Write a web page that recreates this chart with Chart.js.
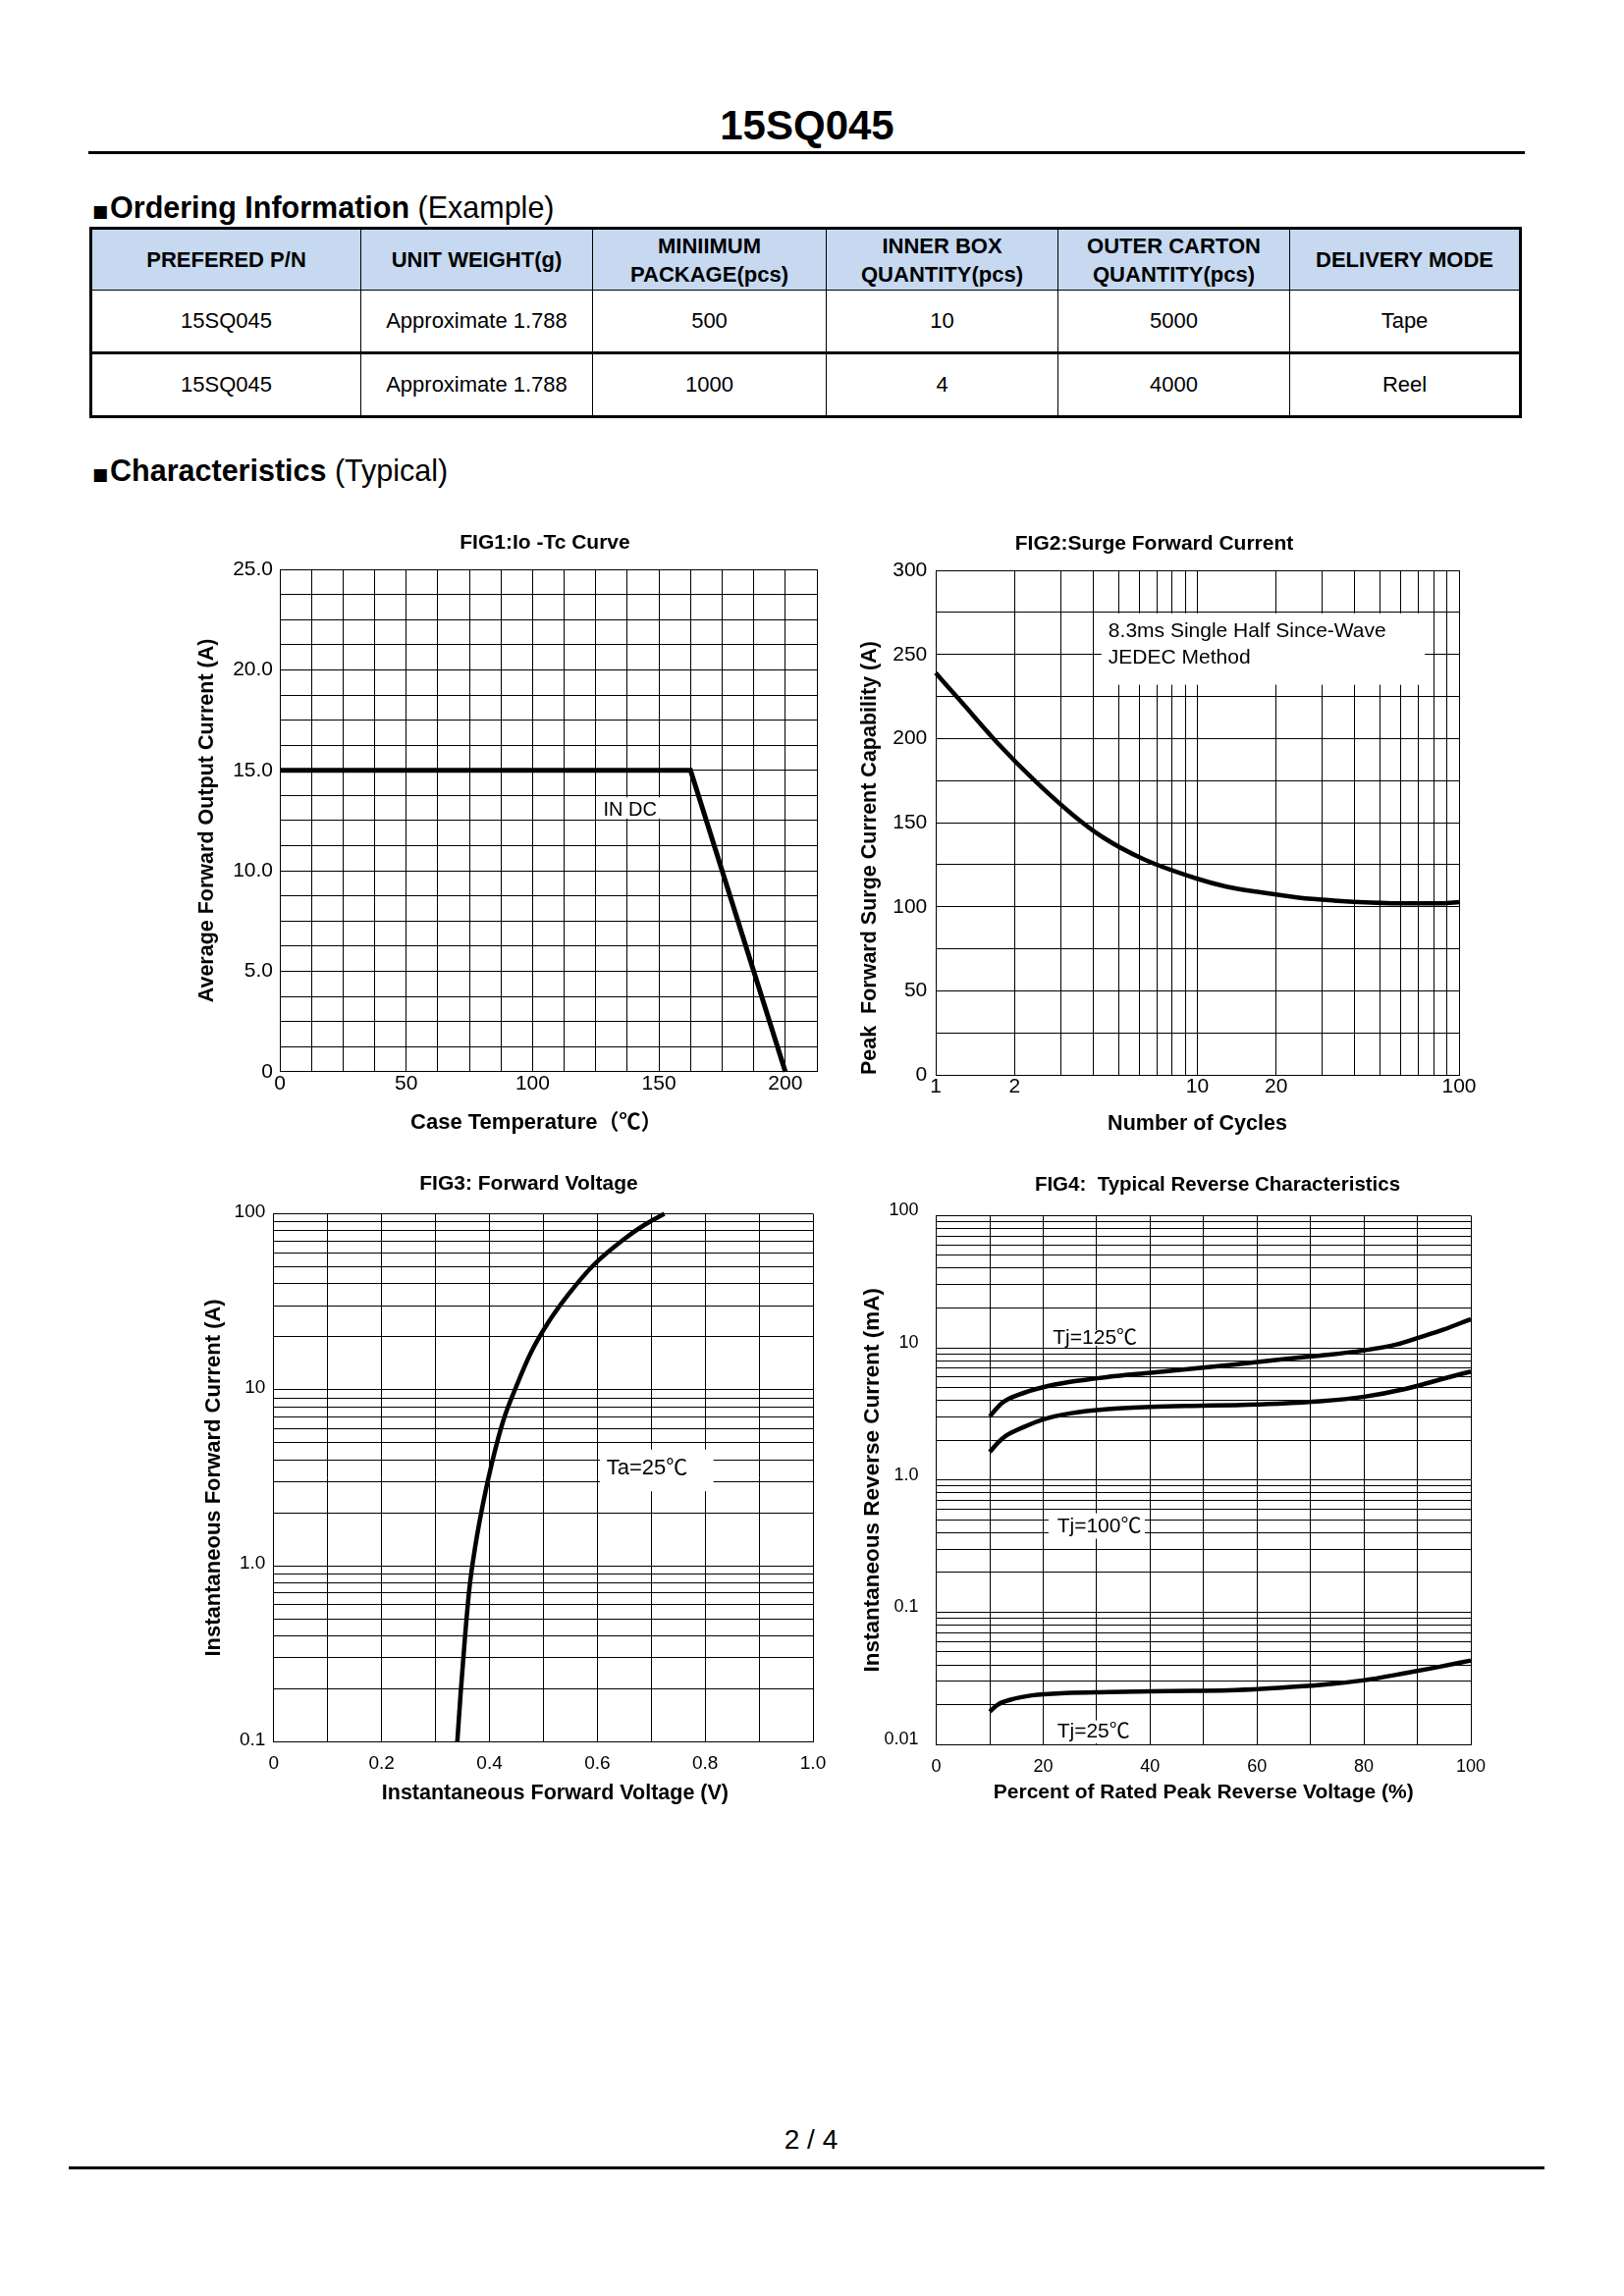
<!DOCTYPE html>
<html>
<head>
<meta charset="utf-8">
<title>15SQ045</title>
<script src="https://cdn.jsdelivr.net/npm/chart.js@4.4.1/dist/chart.umd.min.js"></script>
<style>
html,body{margin:0;padding:0;background:#fff;}
body{width:1654px;height:2339px;position:relative;overflow:hidden;font-family:"Liberation Sans",Arial,Helvetica,sans-serif;color:#000;}
.abs{position:absolute;white-space:nowrap;}
.rule{position:absolute;background:#000;}
.sq{font-family:"DejaVu Sans",sans-serif;font-size:17px;vertical-align:1px;margin-right:2px;}
table.order{position:absolute;left:91px;top:230.5px;border-collapse:collapse;table-layout:fixed;border:3px solid #000;font-size:22px;}
table.order td,table.order th{border:1.5px solid #000;text-align:center;vertical-align:middle;padding:0;line-height:28.5px;}
table.order th{background:#c6d9f1;font-weight:bold;height:58px;padding-top:3px;}
table.order td{height:60px;padding-top:2px;}
table.order tr.r2 td{border-top:3px solid #000;}
canvas{position:absolute;}
</style>
</head>
<body>
<div class="abs" style="left:0;width:1644px;top:106.5px;font-size:42px;line-height:42px;font-weight:bold;text-align:center;">15SQ045</div>
<div class="rule" style="left:90px;top:154px;width:1463px;height:3px;"></div>

<div class="abs" style="left:94px;top:195.5px;font-size:30.5px;line-height:30.5px;"><span class="sq">■</span><b>Ordering Information</b> (Example)</div>

<table class="order">
<colgroup><col style="width:275px"><col style="width:236px"><col style="width:238px"><col style="width:236px"><col style="width:236px"><col style="width:235px"></colgroup>
<tr><th>PREFERED P/N</th><th>UNIT WEIGHT(g)</th><th>MINIIMUM<br>PACKAGE(pcs)</th><th>INNER BOX<br>QUANTITY(pcs)</th><th>OUTER CARTON<br>QUANTITY(pcs)</th><th>DELIVERY MODE</th></tr>
<tr><td>15SQ045</td><td>Approximate 1.788</td><td>500</td><td>10</td><td>5000</td><td>Tape</td></tr>
<tr class="r2"><td>15SQ045</td><td>Approximate 1.788</td><td>1000</td><td>4</td><td>4000</td><td>Reel</td></tr>
</table>

<div class="abs" style="left:94px;top:463.5px;font-size:30.5px;line-height:30.5px;"><span class="sq">■</span><b>Characteristics</b> (Typical)</div>

<canvas id="fig1"></canvas>
<canvas id="fig2"></canvas>
<canvas id="fig3"></canvas>
<canvas id="fig4"></canvas>

<div class="abs" style="left:0;width:1652px;top:2166px;font-size:28px;line-height:28px;text-align:center;">2 / 4</div>
<div class="rule" style="left:70px;top:2207px;width:1503px;height:3px;"></div>

<script>
// ---------------- DATA ----------------
// FIG1: Io - Tc curve
const fig1Temp = [0, 162.5, 200];
const fig1Current = [15, 15, 0];

// FIG2: Surge forward current
const fig2Cycles = [1, 1.253, 1.727, 2.415, 3.327, 4.326, 6.228, 9.93, 12.91, 17.4, 24.42, 33.28, 46.2, 64.12, 85.8, 100];
const fig2Current = [239, 221.8, 197.2, 174.3, 154.9, 141.6, 128.3, 116.8, 112, 108.6, 105.4, 103.7, 102.5, 102, 102, 102.8];
const fig2XTicks = [1, 2, 3, 4, 5, 6, 7, 8, 9, 10, 20, 30, 40, 50, 60, 70, 80, 90, 100];
const fig2XLabels = {1: '1', 2: '2', 10: '10', 20: '20', 100: '100'};

// FIG3: Forward voltage
const fig3Voltage = [0.3403, 0.3466, 0.3544, 0.3629, 0.3738, 0.3879, 0.405, 0.426, 0.4494, 0.4766, 0.5078, 0.5467, 0.5935, 0.648, 0.6869, 0.7243];
const fig3Current = [0.1, 0.191, 0.389, 0.752, 1.3, 2.25, 3.89, 6.74, 10.4, 16.2, 23.8, 34.9, 51.3, 71.2, 86.3, 100];
const fig3YTicks = [0.1, 0.2, 0.3, 0.4, 0.5, 0.6, 0.7, 0.8, 0.9, 1, 2, 3, 4, 5, 6, 7, 8, 9, 10, 20, 30, 40, 50, 60, 70, 80, 90, 100];
const fig3YLabels = {0.1: '0.1', 1: '1.0', 10: '10', 100: '100'};
const fig3XLabels = {0: '0', 0.2: '0.2', 0.4: '0.4', 0.6: '0.6', 0.8: '0.8', 1: '1.0'};

// FIG4: Typical reverse characteristics
const fig4Pct125 = [10, 12.3, 15.5, 19.8, 25, 32.1, 40.1, 48, 56, 63.9, 71.8, 79.8, 86.1, 90.1, 94.8, 100];
const fig4Ir125 = [3.03, 3.83, 4.43, 5.01, 5.52, 6.02, 6.48, 6.97, 7.5, 8.12, 8.74, 9.53, 10.6, 11.9, 13.7, 16.5];
const fig4Pct100 = [10, 11.5, 13.1, 16.3, 19.8, 25, 32.1, 40.1, 48, 56, 63.9, 71.8, 79.8, 87.7, 94, 100];
const fig4Ir100 = [1.63, 1.91, 2.17, 2.51, 2.86, 3.19, 3.44, 3.57, 3.64, 3.69, 3.78, 3.94, 4.25, 4.88, 5.72, 6.62];
const fig4Pct25 = [10, 11.5, 13.9, 17.9, 24.2, 32.1, 40.1, 48, 56, 63.9, 71.8, 79.8, 87.7, 94, 100];
const fig4Ir25 = [0.0177, 0.02, 0.0218, 0.0235, 0.0245, 0.0249, 0.0252, 0.0254, 0.0258, 0.0268, 0.0282, 0.0305, 0.0346, 0.0386, 0.0431];
const fig4YTicks = [0.01, 0.02, 0.03, 0.04, 0.05, 0.06, 0.07, 0.08, 0.09, 0.1, 0.2, 0.3, 0.4, 0.5, 0.6, 0.7, 0.8, 0.9, 1, 2, 3, 4, 5, 6, 7, 8, 9, 10, 20, 30, 40, 50, 60, 70, 80, 90, 100];
const fig4YLabels = {0.01: '0.01', 0.1: '0.1', 1: '1.0', 10: '10', 100: '100'};

// ---------------- HELPERS ----------------
const FONT = '"Liberation Sans", Arial, Helvetica, "Noto Sans CJK SC", sans-serif';
Chart.defaults.font.family = FONT;
Chart.defaults.color = '#000';
Chart.defaults.animation = false;

function xy(xs, ys) { return xs.map((v, i) => ({x: v, y: ys[i]})); }

const annotate = {
  id: 'annot',
  beforeDatasetsDraw(chart, args, opts) {
    const ctx = chart.ctx;
    const xs = chart.scales.x, ys = chart.scales.y;
    ctx.save();
    (opts.boxes || []).forEach(b => {
      const x0 = xs.getPixelForValue(b.x0), x1 = xs.getPixelForValue(b.x1);
      const y0 = ys.getPixelForValue(b.y0), y1 = ys.getPixelForValue(b.y1);
      ctx.fillStyle = '#fff';
      ctx.fillRect(Math.min(x0, x1), Math.min(y0, y1), Math.abs(x1 - x0), Math.abs(y1 - y0));
    });
    (opts.texts || []).forEach(t => {
      ctx.font = (t.size || 20) + 'px ' + FONT;
      ctx.fillStyle = '#000';
      ctx.textAlign = 'left';
      ctx.textBaseline = 'middle';
      ctx.fillText(t.text, xs.getPixelForValue(t.x), ys.getPixelForValue(t.y));
    });
    ctx.restore();
  }
};

function gridOpts() {
  return {color: '#000', lineWidth: 1, drawTicks: false};
}

function build(id, L) {
  const cv = document.getElementById(id);
  cv.width = Math.round(L.width);
  cv.height = Math.round(L.height);
  cv.style.left = L.left + 'px';
  cv.style.top = L.top + 'px';
  cv.style.width = Math.round(L.width) + 'px';
  cv.style.height = Math.round(L.height) + 'px';
  const cfg = L.config;
  cfg.options.responsive = false;
  cfg.options.maintainAspectRatio = false;
  cfg.options.layout = {padding: 0};
  cfg.options.plugins = Object.assign({legend: {display: false}, tooltip: {enabled: false}}, cfg.options.plugins);
  const sx = cfg.options.scales.x, sy = cfg.options.scales.y;
  sx.afterFit = s => { s.height = L.xH; s.paddingLeft = 0; s.paddingRight = 0; };
  sy.afterFit = s => { s.width = L.yW; s.paddingTop = 0; s.paddingBottom = 0; };
  // invisible spacer on the right so the figure title can sit where the reference has it
  cfg.options.scales.yR = {
    type: 'linear', axis: 'y', position: 'right', display: true,
    grid: {display: false, drawOnChartArea: false, drawTicks: false},
    border: {display: false}, ticks: {display: false},
    afterFit: s => { s.width = L.W2; s.paddingTop = 0; s.paddingBottom = 0; }
  };
  cfg.plugins = [annotate];
  return new Chart(cv, cfg);
}

const lineStyle = {borderColor: '#000', backgroundColor: '#000', borderWidth: 4.5, pointRadius: 0, fill: false, clip: false};

// ---------------- FIG1 ----------------
build('fig1', {
  left: 194, top: 540.9, width: 722, height: 616.3, W2: 84, yW: 91, xH: 65.2,
  config: {
    type: 'line',
    data: {datasets: [Object.assign({data: xy(fig1Temp, fig1Current), tension: 0}, lineStyle, {borderWidth: 5})]},
    options: {
      plugins: {
        title: {display: true, text: 'FIG1:Io -Tc Curve', font: {size: 21, weight: 'bold'}, color: '#000', padding: {top: 0, bottom: 13.9}},
        annot: {
          boxes: [{x0: 126.5, x1: 154, y0: 12.6, y1: 13.65}],
          texts: [{text: 'IN DC', x: 128, y: 13.0, size: 20}]
        }
      },
      scales: {
        x: {type: 'linear', min: 0, max: 212.5,
            ticks: {stepSize: 12.5, autoSkip: false, maxRotation: 0, minRotation: 0, padding: 0, font: {size: 21}, color: '#000',
                    callback: v => (Math.abs(v % 50) < 1e-6 ? String(v) : '')},
            grid: gridOpts(), border: {color: '#000', width: 1},
            title: {display: true, text: 'Case Temperature（℃）    ', font: {size: 22, weight: 'bold'}, color: '#000', padding: 0}},
        y: {type: 'linear', min: 0, max: 25,
            ticks: {stepSize: 1.25, autoSkip: false, padding: 7, font: {size: 21}, color: '#000',
                    callback: v => (v === 0 ? '0' : (Math.abs(v % 5) < 1e-6 ? v.toFixed(1) : ''))},
            grid: gridOpts(), border: {color: '#000', width: 1},
            title: {display: true, text: 'Average Forward Output Current (A)', font: {size: 21.5, weight: 'bold'}, color: '#000', padding: {top: 4.1, bottom: 0}}}
      }
    }
  }
});

// ---------------- FIG2 ----------------
build('fig2', {
  left: 834.7, top: 541.6, width: 680.6, height: 616.3, W2: 30, yW: 118, xH: 62.9,
  config: {
    type: 'line',
    data: {datasets: [Object.assign({data: xy(fig2Cycles, fig2Current), cubicInterpolationMode: 'monotone'}, lineStyle)]},
    options: {
      plugins: {
        title: {display: true, text: 'FIG2:Surge Forward Current', font: {size: 21, weight: 'bold'}, color: '#000', padding: {top: 0, bottom: 13.9}},
        annot: {
          boxes: [{x0: 4.3, x1: 74, y0: 232, y1: 274.5}],
          texts: [{text: '8.3ms Single Half Since-Wave', x: 4.57, y: 263.5, size: 21},
                  {text: 'JEDEC Method', x: 4.57, y: 248, size: 21}]
        }
      },
      scales: {
        x: {type: 'logarithmic', min: 1, max: 100,
            afterBuildTicks: s => { s.ticks = fig2XTicks.map(v => ({value: v})); },
            ticks: {autoSkip: false, maxRotation: 0, minRotation: 0, padding: 0, font: {size: 21}, color: '#000',
                    callback: v => (fig2XLabels[v] || '')},
            grid: gridOpts(), border: {color: '#000', width: 1},
            title: {display: true, text: 'Number of Cycles', font: {size: 21.5, weight: 'bold'}, color: '#000', padding: 0}},
        y: {type: 'linear', min: 0, max: 300,
            ticks: {stepSize: 25, autoSkip: false, padding: 8.7, font: {size: 21}, color: '#000',
                    callback: v => (v % 50 === 0 ? String(v) : '')},
            grid: gridOpts(), border: {color: '#000', width: 1},
            title: {display: true, text: 'Peak  Forward Surge Current Capability (A)', align: 'start', font: {size: 21.5, weight: 'bold'}, color: '#000', padding: {top: 38.4, bottom: 0}}}
      }
    }
  }
});

// ---------------- FIG3 ----------------
build('fig3', {
  left: 199.1, top: 1193.8, width: 679.2, height: 646.1, W2: 50, yW: 79.9, xH: 65.6,
  config: {
    type: 'line',
    data: {datasets: [Object.assign({data: xy(fig3Voltage, fig3Current), cubicInterpolationMode: 'monotone'}, lineStyle)]},
    options: {
      plugins: {
        title: {display: true, text: 'FIG3: Forward Voltage', font: {size: 21, weight: 'bold'}, color: '#000', padding: {top: 0, bottom: 17.3}},
        annot: {
          boxes: [{x0: 0.605, x1: 0.8155, y0: 2.65, y1: 4.57}],
          texts: [{text: 'Ta=25℃', x: 0.617, y: 3.56, size: 22}]
        }
      },
      scales: {
        x: {type: 'linear', min: 0, max: 1,
            ticks: {stepSize: 0.1, autoSkip: false, maxRotation: 0, minRotation: 0, padding: 10.8, font: {size: 19}, color: '#000',
                    callback: v => { const k = Math.round(v * 10) / 10; return fig3XLabels[k] || ''; }},
            grid: gridOpts(), border: {color: '#000', width: 1},
            title: {display: true, text: '    Instantaneous Forward Voltage (V)', font: {size: 21.5, weight: 'bold'}, color: '#000', padding: 0}},
        y: {type: 'logarithmic', min: 0.1, max: 100,
            afterBuildTicks: s => { s.ticks = fig3YTicks.map(v => ({value: v})); },
            ticks: {autoSkip: false, padding: 8.6, labelOffset: -2, font: {size: 19}, color: '#000',
                    callback: v => (fig3YLabels[v] || '')},
            grid: gridOpts(), border: {color: '#000', width: 1},
            title: {display: true, text: 'Instantaneous Forward Current (A)', font: {size: 22, weight: 'bold'}, color: '#000', padding: {top: 5.5, bottom: 0}}}
      }
    }
  }
});

// ---------------- FIG4 ----------------
build('fig4', {
  left: 871.7, top: 1195, width: 735.6, height: 643.6, W2: 110, yW: 81.6, xH: 61.9,
  config: {
    type: 'line',
    data: {datasets: [
      Object.assign({label: 'Tj=125℃', data: xy(fig4Pct125, fig4Ir125), cubicInterpolationMode: 'monotone'}, lineStyle),
      Object.assign({label: 'Tj=100℃', data: xy(fig4Pct100, fig4Ir100), cubicInterpolationMode: 'monotone'}, lineStyle),
      Object.assign({label: 'Tj=25℃', data: xy(fig4Pct25, fig4Ir25), cubicInterpolationMode: 'monotone'}, lineStyle)
    ]},
    options: {
      plugins: {
        title: {display: true, text: 'FIG4:  Typical Reverse Characteristics', font: {size: 20.5, weight: 'bold'}, color: '#000', padding: {top: 0, bottom: 18.8}},
        annot: {
          boxes: [{x0: 21, x1: 39, y0: 10.4, y1: 13.6}, {x0: 21, x1: 39, y0: 0.36, y1: 0.56}, {x0: 21, x1: 37, y0: 0.0102, y1: 0.0152}],
          texts: [{text: 'Tj=125℃', x: 21.8, y: 11.9, size: 21},
                  {text: 'Tj=100℃', x: 22.6, y: 0.444, size: 21},
                  {text: 'Tj=25℃', x: 22.6, y: 0.0124, size: 21}]
        }
      },
      scales: {
        x: {type: 'linear', min: 0, max: 100,
            ticks: {stepSize: 10, autoSkip: false, maxRotation: 0, minRotation: 0, padding: 11.9, font: {size: 18}, color: '#000',
                    callback: v => (v % 20 === 0 ? String(v) : '')},
            grid: gridOpts(), border: {color: '#000', width: 1},
            title: {display: true, text: 'Percent of Rated Peak Reverse Voltage (%)', font: {size: 21, weight: 'bold'}, color: '#000', padding: 0}},
        y: {type: 'logarithmic', min: 0.01, max: 100,
            afterBuildTicks: s => { s.ticks = fig4YTicks.map(v => ({value: v})); },
            ticks: {autoSkip: false, padding: 18, labelOffset: -5, font: {size: 18}, color: '#000',
                    callback: v => (fig4YLabels[v] || '')},
            grid: gridOpts(), border: {color: '#000', width: 1},
            title: {display: true, text: 'Instantaneous Reverse Current (mA)', font: {size: 22.5, weight: 'bold'}, color: '#000', padding: {top: 3.3, bottom: 0}}}
      }
    }
  }
});
</script>
</body>
</html>
